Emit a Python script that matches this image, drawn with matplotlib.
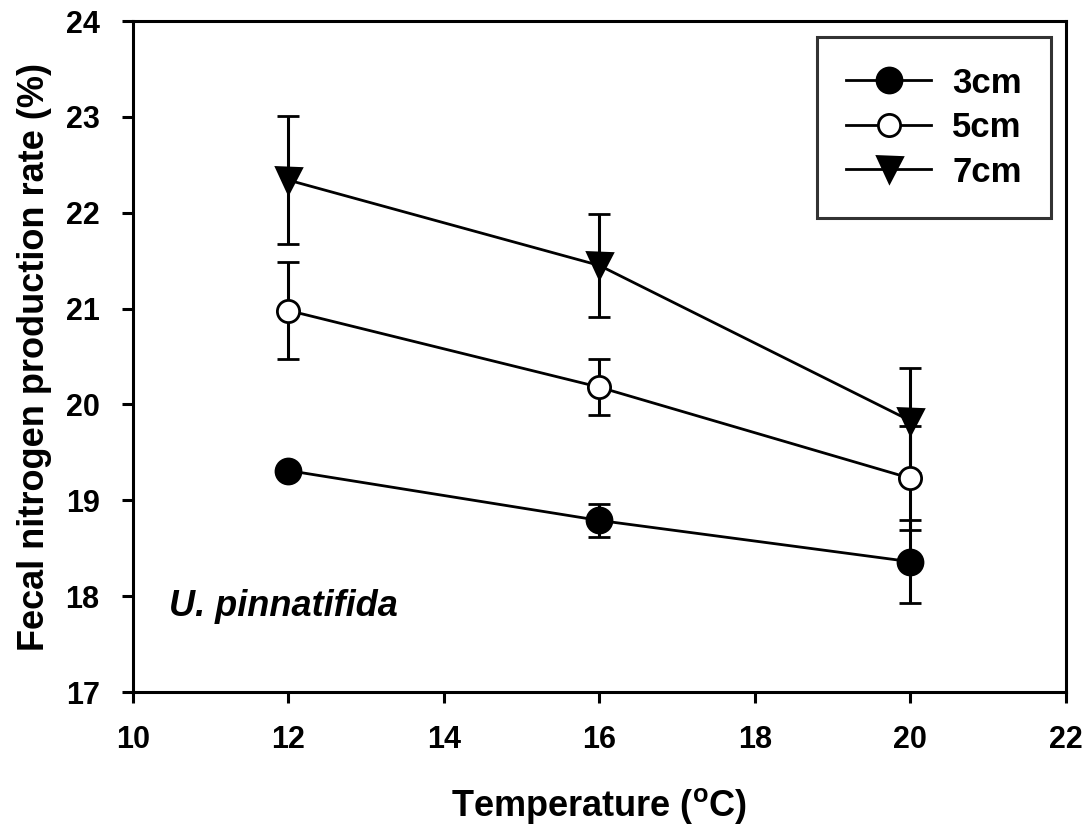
import matplotlib
matplotlib.use('Agg')
import matplotlib.pyplot as plt
from matplotlib.lines import Line2D

plt.rcParams['font.family'] = ['Liberation Sans', 'DejaVu Sans']
plt.rcParams['font.weight'] = 'bold'

# data
temp = [12, 16, 20]
n3 = [19.31, 18.79, 18.36]
e3 = [0.05, 0.17, 0.43]
n5 = [20.98, 20.18, 19.23]
e5 = [0.51, 0.29, 0.54]
n7 = [22.34, 21.45, 19.83]
e7 = [0.67, 0.54, 0.55]
labels = ['3cm', '5cm', '7cm']

fig = plt.figure(figsize=(10.91, 8.27), dpi=100)
ax = fig.add_axes([0.1219, 0.1632, 0.855, 0.8114])

styles = [
    dict(marker='o', mfc='black', ms=18),
    dict(marker='o', mfc='white', ms=16),
    dict(marker='v', mfc='black', ms=18),
]
handles = []
for y, e, lab, st in zip([n3, n5, n7], [e3, e5, e7], labels, styles):
    ax.errorbar(temp, y, yerr=e, color='black', lw=2, elinewidth=2.2,
                capsize=8, capthick=2.2, mec='black', mew=2, **st)
    handles.append(Line2D([], [], color='black', lw=2, mec='black', mew=2, **st))

ax.set_xlim(10, 22)
ax.set_ylim(17, 24)
ax.set_xticks([10, 12, 14, 16, 18, 20, 22])
ax.set_yticks(range(17, 25))
for s in ax.spines.values():
    s.set_linewidth(2.2)
ax.tick_params(direction='out', length=8, width=2.2, labelsize=22, pad=16)
for t in ax.get_xticklabels() + ax.get_yticklabels():
    t.set_fontweight('bold')

ax.set_xlabel('Temperature ($\\mathregular{^oC}$)', fontsize=26, fontweight='bold', labelpad=22)
ax.set_ylabel('Fecal nitrogen production rate (%)', fontsize=26, fontweight='bold', labelpad=10)

ax.text(10.46, 17.89, 'U. pinnatifida', fontsize=26, fontweight='bold', style='italic',
        va='center', ha='left')

leg = ax.legend(handles, labels, loc='upper right', bbox_to_anchor=(0.9845, 0.976), fontsize=25,
                frameon=True, fancybox=False, edgecolor='black', handlelength=2.45,
                handletextpad=0.6, borderpad=0.85, labelspacing=0.33, borderaxespad=0)
leg.get_frame().set_linewidth(2.2)
for t in leg.get_texts():
    t.set_fontweight('bold')

fig.savefig('out.png', dpi=100)
